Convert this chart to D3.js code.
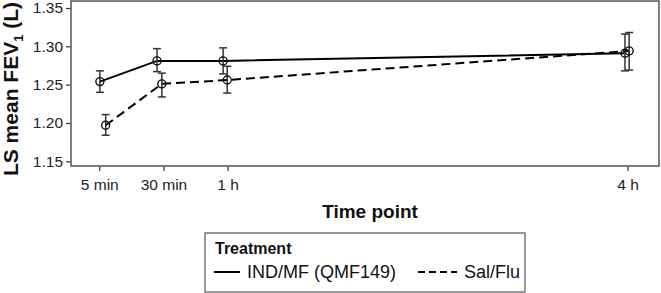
<!DOCTYPE html>
<html>
<head>
<meta charset="utf-8">
<script src="https://cdn.jsdelivr.net/npm/d3@7"></script>
<style>
  body { margin: 0; background: #fff; }
  svg { font-family: Arial, "Liberation Sans", sans-serif; }
  .axis text { font-family: Arial, "Liberation Sans", sans-serif; font-size: 15.5px; fill: #222; }
  .axis path { display: none; }
  .axis line { stroke: #333; stroke-width: 1.2; }
</style>
</head>
<body>
<svg id="grafico" width="661" height="293"></svg>
<script>
// time points (x positions are in axis units, as plotted)
const timeLabels = ['5 min', '30 min', '1 h', '4 h'];
const timePos = [0, 1, 2, 8.23];

const yTicks = [1.15, 1.20, 1.25, 1.30, 1.35];

// IND/MF (QMF149)
const indMean = [1.254, 1.281, 1.281, 1.291];
const indLow = [1.240, 1.267, 1.264, 1.268];
const indHigh = [1.268, 1.297, 1.298, 1.316];
const indDodge = [0.01, -0.10, -0.07, -0.04];

// Sal/Flu
const salMean = [1.197, 1.251, 1.256, 1.294];
const salLow = [1.184, 1.234, 1.239, 1.269];
const salHigh = [1.211, 1.265, 1.274, 1.318];
const salDodge = [0.10, -0.025, -0.006, 0.025];

const series = [
  { name: 'IND/MF (QMF149)', mean: indMean, low: indLow, high: indHigh, dodge: indDodge, dash: null },
  { name: 'Sal/Flu', mean: salMean, low: salLow, high: salHigh, dodge: salDodge, dash: '9,5' }
];

const svg = d3.select('#grafico');

const frame = { left: 71, right: 659, top: 1, bottom: 166 };

const xScale = d3.scaleLinear()
  .domain([-0.44, 8.72])
  .range([frame.left, frame.right]);

const yScale = d3.scaleLinear()
  .domain([1.1439, 1.3591])
  .range([frame.bottom, frame.top]);

/*eixo y*/
svg.append('g')
  .attr('class', 'axis')
  .attr('transform', `translate(${frame.left}, 0)`)
  .call(d3.axisLeft(yScale)
    .tickValues(yTicks)
    .tickFormat(d3.format('.2f'))
    .tickSize(5)
    .tickPadding(3));

/*eixo x*/
svg.append('g')
  .attr('class', 'axis')
  .attr('transform', `translate(0, ${frame.bottom})`)
  .call(d3.axisBottom(xScale)
    .tickValues(timePos)
    .tickFormat((d, i) => timeLabels[i])
    .tickSize(5)
    .tickPadding(8));

/*moldura*/
svg.append('rect')
  .attr('x', frame.left)
  .attr('y', frame.top)
  .attr('width', frame.right - frame.left)
  .attr('height', frame.bottom - frame.top)
  .attr('fill', 'none')
  .attr('stroke', '#555')
  .attr('stroke-width', 1.5);

const line = d3.line()
  .x(d => xScale(d.x))
  .y(d => yScale(d.y));

series.forEach(s => {
  const pts = s.mean.map((m, i) => ({
    x: timePos[i] + s.dodge[i], y: m, lo: s.low[i], hi: s.high[i]
  }));

  const g = svg.append('g');

  g.append('path')
    .datum(pts)
    .attr('d', line)
    .attr('fill', 'none')
    .attr('stroke', '#000')
    .attr('stroke-width', 2)
    .attr('stroke-dasharray', s.dash);

  /*barras de erro*/
  const eb = g.selectAll('.eb')
    .data(pts)
    .enter()
    .append('g')
    .attr('stroke', '#333')
    .attr('stroke-width', 1.5);

  eb.append('line')
    .attr('x1', d => xScale(d.x))
    .attr('x2', d => xScale(d.x))
    .attr('y1', d => yScale(d.lo))
    .attr('y2', d => yScale(d.hi));

  eb.append('line')
    .attr('x1', d => xScale(d.x) - 4)
    .attr('x2', d => xScale(d.x) + 4)
    .attr('y1', d => yScale(d.lo))
    .attr('y2', d => yScale(d.lo));

  eb.append('line')
    .attr('x1', d => xScale(d.x) - 4)
    .attr('x2', d => xScale(d.x) + 4)
    .attr('y1', d => yScale(d.hi))
    .attr('y2', d => yScale(d.hi));

  g.selectAll('circle')
    .data(pts)
    .enter()
    .append('circle')
    .attr('cx', d => xScale(d.x))
    .attr('cy', d => yScale(d.y))
    .attr('r', 4)
    .attr('fill', 'none')
    .attr('stroke', '#111')
    .attr('stroke-width', 1.4);
});

/*titulos*/
svg.append('text')
  .attr('x', 370)
  .attr('y', 218)
  .attr('text-anchor', 'middle')
  .attr('font-size', 19)
  .attr('font-weight', 'bold')
  .attr('fill', '#111')
  .text('Time point');

const yTitle = svg.append('text')
  .attr('transform', 'translate(18, 89) rotate(-90)')
  .attr('text-anchor', 'middle')
  .attr('font-size', 21)
  .attr('font-weight', 'bold')
  .attr('fill', '#111');
yTitle.append('tspan').text('LS mean FEV');
yTitle.append('tspan').attr('font-size', 13).attr('dy', 5).text('1');
yTitle.append('tspan').attr('dy', -5).text(' (L)');

/*legenda*/
const leg = svg.append('g');
leg.append('rect')
  .attr('x', 205)
  .attr('y', 233)
  .attr('width', 320)
  .attr('height', 59)
  .attr('fill', '#fff')
  .attr('stroke', '#777')
  .attr('stroke-width', 1.5);

leg.append('text')
  .attr('x', 215)
  .attr('y', 254)
  .attr('font-size', 16)
  .attr('font-weight', 'bold')
  .attr('fill', '#111')
  .text('Treatment');

const legX = [214, 418];
const legLen = [26, 39];
series.forEach((s, i) => {
  leg.append('line')
    .attr('x1', legX[i])
    .attr('x2', legX[i] + legLen[i])
    .attr('y1', 272)
    .attr('y2', 272)
    .attr('stroke', '#000')
    .attr('stroke-width', 2)
    .attr('stroke-dasharray', s.dash ? '7,4' : null);
  leg.append('text')
    .attr('x', legX[i] + legLen[i] + 7)
    .attr('y', 278)
    .attr('font-size', 18)
    .attr('fill', '#111')
    .text(s.name);
});
</script>
</body>
</html>
